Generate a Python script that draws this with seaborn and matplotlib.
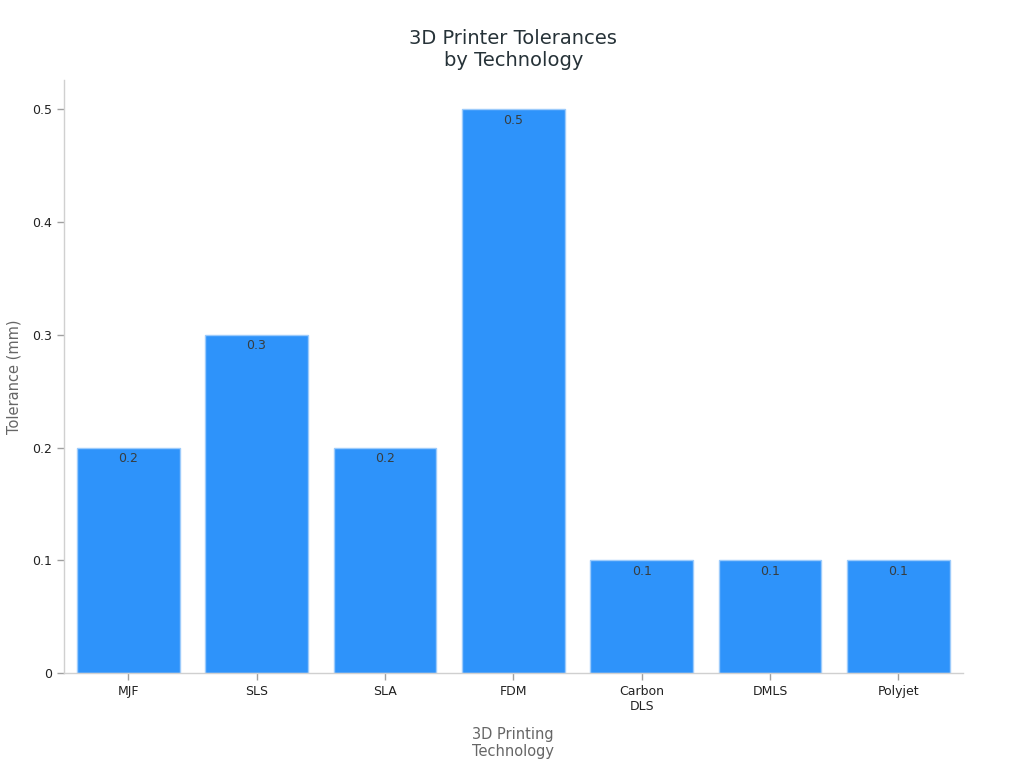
import seaborn as sns
import pandas as pd
import matplotlib.pyplot as plt

# data
technologies = ["MJF", "SLS", "SLA", "FDM", "Carbon\nDLS", "DMLS", "Polyjet"]
tolerances = [0.2, 0.3, 0.2, 0.5, 0.1, 0.1, 0.1]

df = pd.DataFrame({"Technology": technologies, "Tolerance": tolerances})

sns.set_style("white")
plt.rcParams["font.family"] = ["DejaVu Sans"]

fig = plt.figure(figsize=(10.24, 7.68), dpi=100)
ax = fig.add_axes([0.0625, 0.1237, 0.8775, 0.7721])

sns.barplot(data=df, x="Technology", y="Tolerance", color="#2E93FA",
            saturation=1, width=0.8, edgecolor="#9CCBFB", linewidth=1, ax=ax)

for p, v in zip(ax.patches, tolerances):
    ax.text(p.get_x() + p.get_width() / 2, v - 0.004, f"{v:g}",
            ha="center", va="top", fontsize=9, color="#373D3F")

ax.set_xlim(-0.5, len(technologies) - 0.5)
ax.set_ylim(0, 0.526)
ax.set_yticks([0, 0.1, 0.2, 0.3, 0.4, 0.5])
ax.set_yticklabels(["0", "0.1", "0.2", "0.3", "0.4", "0.5"])

sns.despine(ax=ax)
for s in ["left", "bottom"]:
    ax.spines[s].set_color("#D0D0D0")
    ax.spines[s].set_linewidth(1)

ax.tick_params(axis="both", length=5, width=1, color="#A0A0A0",
               labelsize=9, labelcolor="#222222", bottom=True, left=True)

ax.set_xlabel("3D Printing\nTechnology", fontsize=10.5, color="#666666", labelpad=10)
ax.set_ylabel("Tolerance (mm)", fontsize=10.5, color="#666666", labelpad=8)
ax.set_title("3D Printer Tolerances\nby Technology", fontsize=14, color="#263238", pad=10)

fig.savefig("out.png", dpi=100)
